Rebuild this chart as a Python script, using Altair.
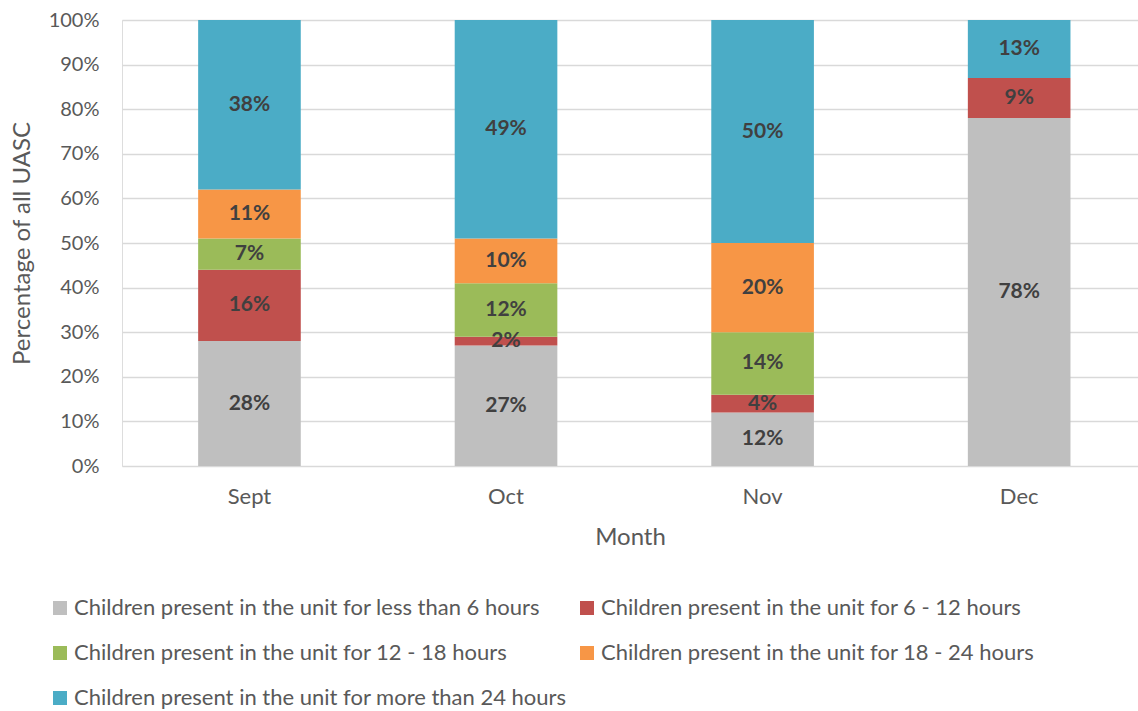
import altair as alt
import pandas as pd

months = ["Sept", "Oct", "Nov", "Dec"]
series = [
    "Children present in the unit for less than 6 hours",
    "Children present in the unit for 6 - 12 hours",
    "Children present in the unit for 12 - 18 hours",
    "Children present in the unit for 18 - 24 hours",
    "Children present in the unit for more than 24 hours",
]
lt6 = [28, 27, 12, 78]
h6_12 = [16, 2, 4, 9]
h12_18 = [7, 12, 14, 0]
h18_24 = [11, 10, 20, 0]
gt24 = [38, 49, 50, 13]
colors = ["#BFBFBF", "#C0504D", "#9BBB59", "#F79646", "#4BACC6"]

# legend is filled column by column: arrange so rows read like the reference
legend_order = [0, 2, 4, 1, 3]

all_values = [lt6, h6_12, h12_18, h18_24, gt24]
rows = []
for si, s in enumerate(series):
    for mi, m in enumerate(months):
        v = all_values[si][mi]
        if v > 0:
            rows.append({"month": m, "series": s, "idx": si, "value": v})
df = pd.DataFrame(rows)

FONT = "Lato"
GREY = "#595959"

base = alt.Chart(df).transform_stack(
    stack="value",
    groupby=["month"],
    sort=[alt.SortField("idx", order="ascending")],
    as_=["y0", "y1"],
).transform_calculate(
    mid="(datum.y0 + datum.y1) / 2",
    label="datum.value + '%'",
)

xscale = alt.Scale(paddingInner=0.6, paddingOuter=0.28, align=0.53)

bars = base.mark_bar().encode(
    x=alt.X(
        "month:N",
        sort=months,
        scale=xscale,
        axis=alt.Axis(
            title="Month",
            labelAngle=0,
            labelFontSize=22,
            labelColor=GREY,
            labelFont=FONT,
            labelPadding=20,
            ticks=False,
            tickSize=0,
            domain=False,
            titleFontSize=24,
            titleFont=FONT,
            titleColor=GREY,
            titleFontWeight="normal",
            titleY=71,
            titleBaseline="middle",
        ),
    ),
    y=alt.Y(
        "y0:Q",
        scale=alt.Scale(domain=[0, 100]),
        axis=alt.Axis(
            title="Percentage of all UASC",
            values=list(range(0, 101, 10)),
            labelExpr="datum.value + '%'",
            labelFontSize=20,
            labelColor=GREY,
            labelFont=FONT,
            labelPadding=23,
            ticks=False,
            tickSize=0,
            domain=False,
            gridColor="#D9D9D9",
            gridWidth=1.5,
            titleFontSize=24,
            titleFont=FONT,
            titleColor=GREY,
            titleFontWeight="normal",
            titleX=-100,
            titleY=223,
            titleAngle=-90,
            titleAlign="center",
            titleBaseline="middle",
        ),
    ),
    y2="y1:Q",
    color=alt.Color(
        "series:N",
        scale=alt.Scale(
            domain=[series[i] for i in legend_order],
            range=[colors[i] for i in legend_order],
        ),
        legend=alt.Legend(
            title=None,
            orient="none",
            legendX=-73,
            legendY=577,
            columns=2,
            columnPadding=9,
            rowPadding=23,
            symbolType="square",
            symbolSize=196,
            symbolStrokeWidth=0,
            symbolOpacity=1,
            labelFontSize=22,
            labelFont=FONT,
            labelColor=GREY,
            labelLimit=700,
            labelOffset=3,
            padding=0,
        ),
    ),
)

text = base.mark_text(
    fontSize=21, fontWeight="bold", color="#404040", font=FONT, baseline="middle"
).encode(
    x=alt.X("month:N", sort=months, scale=xscale),
    y=alt.Y("mid:Q"),
    text="label:N",
)

chart = (
    (bars + text)
    .properties(
        width=1016,
        height=446,
        padding={"left": 122, "top": 20, "right": 0, "bottom": 245},
        autosize="none",
    )
    .configure_view(stroke=None)
    .configure(background="white")
)

chart.save("out.html", embed_options={"renderer": "svg", "actions": False})
